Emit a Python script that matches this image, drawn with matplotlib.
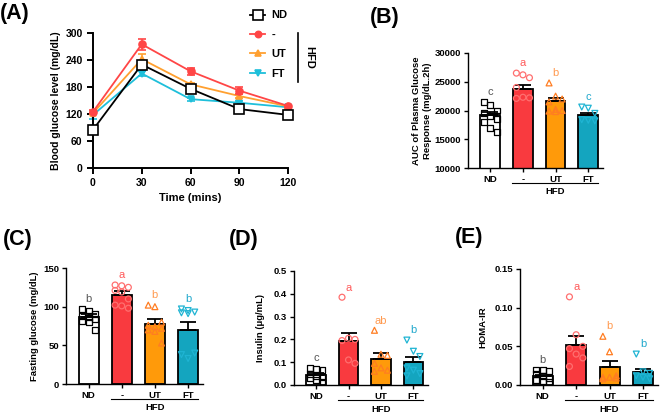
import matplotlib
matplotlib.use("Agg")
import matplotlib.pyplot as plt
import numpy as np
from matplotlib.lines import Line2D

plt.rcParams['font.family'] = ['Liberation Sans', 'DejaVu Sans']
plt.rcParams['font.weight'] = 'bold'
plt.rcParams['axes.labelweight'] = 'bold'

# ---- (A) glucose tolerance curve
time = [0, 30, 60, 90, 120]
nd_curve = [85, 230, 176, 131, 118]
nd_err = [8, 8, 6, 4, 3]
hfd_curve = [125, 275, 215, 172, 138]
hfd_err = [3, 12, 8, 8, 3]
ut_curve = [122, 242, 186, 160, 137]
ut_err = [3, 12, 4, 5, 3]
ft_curve = [118, 210, 153, 145, 135]
ft_err = [8, 6, 3, 4, 3]

groups = ['ND', '-', 'UT', 'FT']

# ---- (B) AUC
auc_mean = [19200, 23800, 21600, 19200]
auc_sem = [500, 700, 550, 450]
auc_pts = [[21500, 21000, 20000, 19500, 19000, 18500, 18000, 17000, 16200],
           [26500, 26200, 25700, 24000, 22300, 22200, 22100],
           [24800, 22500, 22000, 21500, 20200, 20000, 19900, 19800],
           [20600, 20400, 19500, 18400, 18300, 18200]]
auc_letters = ['c', 'a', 'b', 'c']

# ---- (C) fasting glucose
fg_mean = [87, 115, 77.5, 70]
fg_sem = [3, 5, 6, 10]
fg_pts = [[97, 95, 91, 88, 86, 84, 82, 80, 70],
          [128, 127, 125, 121, 119, 110, 102, 98, 101],
          [102, 100, 80, 76, 74, 72, 70, 68, 53],
          [97, 95, 93, 92, 91, 40, 38, 33]]
fg_letters = ['b', 'a', 'b', 'b']

# ---- (D) insulin
ins_mean = [0.045, 0.193, 0.114, 0.10]
ins_sem = [0.008, 0.037, 0.026, 0.023]
ins_pts = [[0.075, 0.07, 0.065, 0.05, 0.04, 0.035, 0.03, 0.02, 0.015],
           [0.385, 0.205, 0.2, 0.195, 0.11, 0.095],
           [0.24, 0.135, 0.13, 0.095, 0.075, 0.065, 0.06],
           [0.197, 0.148, 0.125, 0.075, 0.065, 0.05, 0.04]]
ins_letters = ['c', 'a', 'ab', 'b']

# ---- (E) HOMA-IR
homa_mean = [0.0115, 0.052, 0.023, 0.017]
homa_sem = [0.002, 0.011, 0.008, 0.004]
homa_pts = [[0.02, 0.019, 0.018, 0.014, 0.012, 0.009, 0.007, 0.005, 0.004],
            [0.114, 0.065, 0.05, 0.047, 0.04, 0.035, 0.024],
            [0.063, 0.043, 0.012, 0.01, 0.01, 0.009, 0.008],
            [0.04, 0.017, 0.015, 0.012, 0.01, 0.008]]
homa_letters = ['b', 'a', 'b', 'b']

# colours
line_colors = ['black', '#FF4646', '#FFA030', '#1EBFDA']
bar_colors = ['white', '#F93A3F', '#FF9A0A', '#14A5BF']
pt_colors = ['black', '#FF6F6F', '#FF7D22', '#1FB4D3']
letter_colors = ['#555555', '#FF5A5A', '#FF9A50', '#20A8CC']
pt_markers = ['s', 'o', '^', 'v']

W, H = 667, 413
fig = plt.figure(figsize=(W / 100, H / 100), dpi=100)


def rect(left, top, right, bottom):
    return [left / W, 1 - bottom / H, (right - left) / W, (bottom - top) / H]


# ---------------- panel A
axA = fig.add_axes(rect(93, 33, 288, 168))
series = [(nd_curve, nd_err, 'ND'), (hfd_curve, hfd_err, '-'),
          (ut_curve, ut_err, 'UT'), (ft_curve, ft_err, 'FT')]
mk = ['s', 'o', '^', 'v']
order_z = [5, 4, 3, 2]
handles = []
for i, (vals, err, lab) in enumerate(series):
    face = 'white' if i == 0 else line_colors[i]
    ms = 7 if i == 0 else 5
    axA.errorbar(time, vals, yerr=err, color=line_colors[i], marker=mk[i],
                 mfc=face, mec=line_colors[i], ms=ms, lw=1.3, mew=1.2,
                 capsize=3, elinewidth=1.1, capthick=1.1, zorder=order_z[i],
                 clip_on=False)
    handles.append(Line2D([], [], color=line_colors[i], marker=mk[i], mfc=face,
                          mec=line_colors[i], ms=ms - 0.5, lw=1.3, mew=1.2))
axA.set_xlim(0, 120)
axA.set_ylim(0, 300)
axA.set_xticks(time)
axA.set_yticks(np.arange(0, 301, 60))
axA.spines[['top', 'right']].set_visible(False)
axA.spines[['left', 'bottom']].set_linewidth(1.4)
axA.tick_params(width=1.4, length=4, labelsize=7.5)
axA.set_xlabel('Time (mins)', fontsize=8, labelpad=3)
axA.set_ylabel('Blood glucose level (mg/dL)', fontsize=7.5)
axA.yaxis.set_label_coords(-0.165, 0.5)

fig.legend(handles, groups, loc='upper left', bbox_to_anchor=(246 / W, 1 - 6 / H),
           frameon=False, fontsize=8, handlelength=1.3, handletextpad=0.6,
           labelspacing=0.85, borderaxespad=0)
fig.add_artist(Line2D([298 / W, 298 / W], [1 - 33 / H, 1 - 82 / H], color='black', lw=1.2))
fig.text(309 / W, 1 - 57 / H, 'HFD', rotation=-90, ha='center', va='center', fontsize=8)


# ---------------- bar panels
def bar_panel(ax, means, sems, pts, letters, ylim, yticks, ylabel, label_x, fmt):
    x = np.arange(len(groups))
    ax.bar(x, means, width=0.6, color=bar_colors, edgecolor='black', linewidth=1.3, zorder=2)
    ax.errorbar(x, means, yerr=[np.zeros(len(x)), sems], fmt='none', ecolor='black',
                elinewidth=1.3, capsize=5.5, capthick=1.3, zorder=3)
    span = ylim[1] - ylim[0]
    for i, vals in enumerate(pts):
        vals = np.sort(np.array(vals))[::-1]
        offs = np.tile([-0.2, 0.0, 0.2], len(vals))[:len(vals)]
        ax.scatter(x[i] + offs, vals, marker=pt_markers[i], s=18, facecolors='none',
                   edgecolors=pt_colors[i], linewidths=0.9, zorder=4)
        top = max(vals.max(), means[i] + sems[i])
        ax.text(x[i], top + 0.085 * span, letters[i], color=letter_colors[i],
                ha='center', va='center', fontsize=8, fontweight='normal')
    ax.set_xlim(-0.68, 3.45)
    ax.set_ylim(*ylim)
    ax.set_yticks(yticks)
    ax.set_yticklabels([fmt.format(v) for v in yticks])
    ax.set_xticks(x)
    ax.set_xticklabels(groups)
    ax.spines[['top', 'right']].set_visible(False)
    ax.spines[['left', 'bottom']].set_linewidth(1.0)
    ax.tick_params(width=1.0, length=3, labelsize=6.8, pad=2)
    ax.set_ylabel(ylabel, fontsize=6.8, linespacing=1.2)
    ax.yaxis.set_label_coords(label_x, 0.5)
    # HFD group bracket under the axis
    hpx = ax.get_position().height * H
    ax.plot([0.68, 3.3], [-15 / hpx, -15 / hpx], transform=ax.get_xaxis_transform(),
            color='black', lw=0.8, clip_on=False)
    ax.text(2.0, -24 / hpx, 'HFD', transform=ax.get_xaxis_transform(),
            ha='center', va='center', fontsize=6.8)


axB = fig.add_axes(rect(468, 53, 603, 168))
bar_panel(axB, auc_mean, auc_sem, auc_pts, auc_letters, (10000, 30000),
          np.arange(10000, 30001, 5000), 'AUC of Plasma Glucose\nResponse (mg/dL.2h)',
          -0.27, '{:.0f}')

axC = fig.add_axes(rect(66, 268, 203, 384))
bar_panel(axC, fg_mean, fg_sem, fg_pts, fg_letters, (0, 150), [0, 50, 100, 150],
          'Fasting glucose (mg/dL)', -0.2, '{:.0f}')

axD = fig.add_axes(rect(294, 271, 428, 385))
bar_panel(axD, ins_mean, ins_sem, ins_pts, ins_letters, (0, 0.5),
          [0, 0.1, 0.2, 0.3, 0.4, 0.5], 'Insulin (μg/mL)', -0.22, '{:.1f}')

axE = fig.add_axes(rect(520, 269, 658, 385))
bar_panel(axE, homa_mean, homa_sem, homa_pts, homa_letters, (0, 0.15),
          [0, 0.05, 0.10, 0.15], 'HOMA-IR', -0.235, '{:.2f}')

# panel letters
for lab, px, py in [('(A)', 0, 3), ('(B)', 370, 7), ('(C)', 3, 229),
                    ('(D)', 229, 229), ('(E)', 455, 227)]:
    fig.text(px / W, 1 - py / H, lab, fontsize=15.5, fontweight='bold', ha='left', va='top')

fig.savefig('out.png', dpi=100)
